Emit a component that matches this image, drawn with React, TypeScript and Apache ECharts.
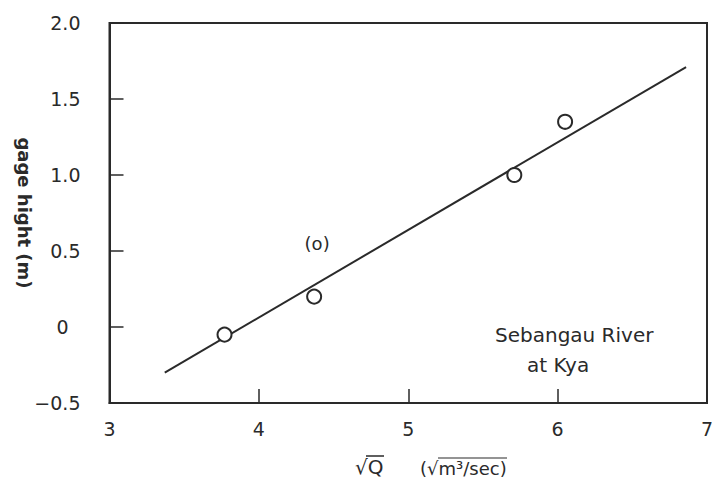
import React, { useEffect, useRef } from "react";
import * as echarts from "echarts";

const xTickValues = [3, 4, 5, 6, 7];
const yTickValues = [-0.5, 0, 0.5, 1.0, 1.5, 2.0];
const yTickLabels = ["−0.5", "0", "0.5", "1.0", "1.5", "2.0"];
const observedX = [3.77, 4.37, 5.71, 6.05];
const observedY = [-0.05, 0.2, 1.0, 1.35];
const doubtfulX = [4.39];
const doubtfulY = [0.55];
const fitX = [3.37, 6.86];
const fitY = [-0.3, 1.71];

const INK = "#2a2a2a";
const FONT = "DejaVu Sans";

export default function App() {
  const ref = useRef<HTMLDivElement>(null);
  useEffect(() => {
    if (!ref.current) return;
    const chart = echarts.init(ref.current, undefined, { renderer: "svg" });
    const option: any = {
      animation: false,
      backgroundColor: "#ffffff",
      grid: {
        left: 109.5,
        right: 5,
        top: 23,
        bottom: 78,
        containLabel: false,
        outerBoundsMode: "none",
        show: true,
        borderColor: INK,
        borderWidth: 2,
        backgroundColor: "transparent",
      },
      xAxis: {
        type: "value",
        min: 3,
        max: 7,
        interval: 1,
        axisLine: { show: true, onZero: false, lineStyle: { color: INK, width: 2 } },
        axisTick: { show: true, inside: true, length: 14, lineStyle: { color: INK, width: 1.5 } },
        splitLine: { show: false },
        axisLabel: {
          color: INK,
          fontFamily: FONT,
          fontSize: 19,
          margin: 16,
          formatter: (v: number) => (xTickValues.includes(v) ? String(v) : ""),
        },
      },
      yAxis: {
        type: "value",
        min: -0.5,
        max: 2.0,
        interval: 0.5,
        name: "gage hight (m)",
        nameLocation: "middle",
        nameRotate: -90,
        nameGap: 76,
        nameMoveOverlap: false,
        nameTextStyle: { color: INK, fontFamily: FONT, fontSize: 18, fontWeight: "bold" },
        axisLine: { show: true, onZero: false, lineStyle: { color: INK, width: 2 } },
        axisTick: { show: true, inside: true, length: 14, lineStyle: { color: INK, width: 1.5 } },
        splitLine: { show: false },
        axisLabel: {
          color: INK,
          fontFamily: FONT,
          fontSize: 19,
          margin: 29,
          formatter: (v: number) => {
            const i = yTickValues.findIndex((t) => Math.abs(t - v) < 1e-9);
            if (i < 0) return "";
            return v === 0 ? `{z|${yTickLabels[i]}}` : yTickLabels[i];
          },
          rich: {
            z: { color: INK, fontFamily: FONT, fontSize: 19, padding: [0, 12, 0, 0] },
          },
        },
      },
      series: [
        {
          type: "line",
          data: fitX.map((x, i) => [x, fitY[i]]),
          symbol: "none",
          lineStyle: { color: INK, width: 2 },
          z: 2,
        },
        {
          type: "scatter",
          data: observedX.map((x, i) => [x, observedY[i]]),
          symbol: "circle",
          symbolSize: 14,
          itemStyle: { color: "#ffffff", borderColor: INK, borderWidth: 2, opacity: 1 },
          z: 3,
        },
        {
          type: "scatter",
          data: doubtfulX.map((x, i) => [x, doubtfulY[i]]),
          symbolSize: 0,
          itemStyle: { opacity: 1 },
          label: {
            show: true,
            position: "inside",
            formatter: "(o)",
            color: INK,
            fontFamily: FONT,
            fontSize: 18,
          },
          z: 3,
        },
      ],
      graphic: [
        {
          type: "text",
          left: 495,
          top: 325,
          style: { text: "Sebangau River", fill: INK, font: `20px "${FONT}"` },
        },
        {
          type: "text",
          left: 527,
          top: 355,
          style: { text: "at Kya", fill: INK, font: `20px "${FONT}"` },
        },
        {
          type: "text",
          left: 355,
          top: 457,
          style: { text: "√Q", fill: INK, font: `20px "${FONT}"` },
        },
        {
          type: "line",
          shape: { x1: 366, y1: 456, x2: 384, y2: 456 },
          style: { stroke: INK, lineWidth: 1.5 },
        },
        {
          type: "text",
          left: 420,
          top: 459,
          style: { text: "(√m³/sec)", fill: INK, font: `18px "${FONT}"` },
        },
        {
          type: "line",
          shape: { x1: 438, y1: 458, x2: 507, y2: 458 },
          style: { stroke: INK, lineWidth: 1.2 },
        },
      ],
    };
    chart.setOption(option);
    return () => chart.dispose();
  }, []);
  return (
    <div
      ref={ref}
      style={{ position: "fixed", left: 0, top: 0, width: 712, height: 481 }}
    />
  );
}
